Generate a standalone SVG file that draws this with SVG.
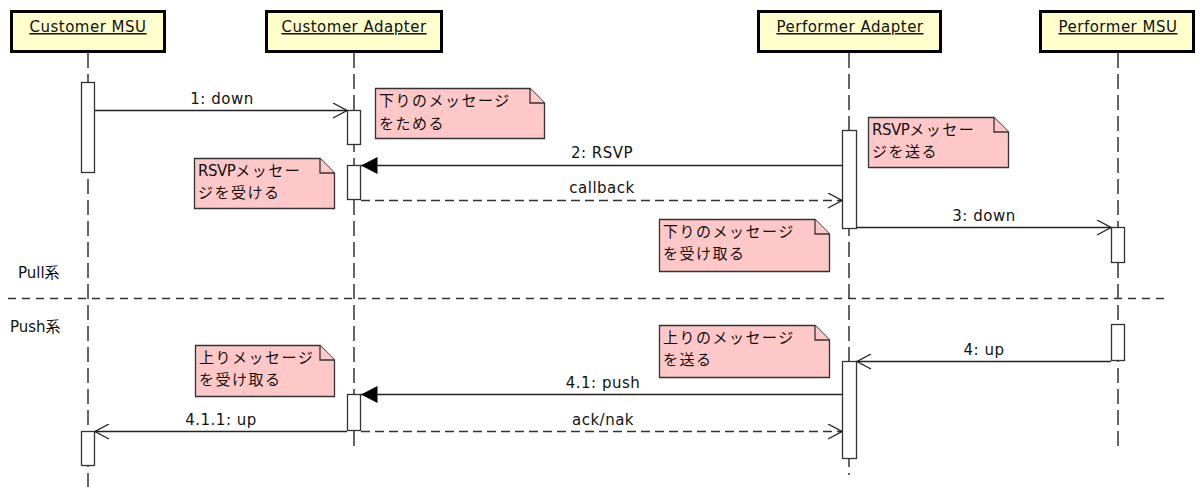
<svg xmlns="http://www.w3.org/2000/svg" width="1196" height="487" viewBox="0 0 1196 487">
  <style>
    .head rect { fill: #ffffcc; stroke: #000; stroke-width: 3; }
    .head text { font-family: "DejaVu Sans", sans-serif; font-size: 15px; letter-spacing: 0.5px; fill: #111; text-anchor: middle; text-decoration: underline; }
    .life { stroke: #333; stroke-width: 1.5; stroke-dasharray: 15 6; fill: none; }
    .act { fill: #fff; stroke: #333; stroke-width: 1.3; }
    .msg { stroke: #222; stroke-width: 1.3; fill: none; }
    .ret { stroke: #333; stroke-width: 1.3; fill: none; stroke-dasharray: 9 5; }
    .lbl { font-family: "DejaVu Sans", sans-serif; font-size: 15px; letter-spacing: 0.5px; fill: #111; text-anchor: middle; }
    .note path { fill: #ffc8c8; stroke: #333; stroke-width: 1.3; stroke-linejoin: miter; }
    .note text { font-family: "DejaVu Sans", "Noto Sans CJK JP", sans-serif; font-size: 15px; letter-spacing: 1.5px; fill: #111; }
    .note tspan.lat { font-size: 15px; letter-spacing: -0.5px; }
    .sec { font-family: "DejaVu Sans", "Noto Sans CJK JP", sans-serif; font-size: 15px; fill: #111; }
  </style>
  <defs>
    <marker id="open" viewBox="0 0 16 16" refX="15" refY="8" markerWidth="16" markerHeight="16" markerUnits="userSpaceOnUse" orient="auto">
      <path d="M1,0.5 L15,8 L1,15.5" fill="none" stroke="#222" stroke-width="1.3"/>
    </marker>
    <marker id="solid" viewBox="0 0 17 18" refX="16.5" refY="9" markerWidth="17" markerHeight="18" markerUnits="userSpaceOnUse" orient="auto">
      <path d="M0,0.5 L16.5,9 L0,17.5 Z" fill="#000"/>
    </marker>
  </defs>

  <!-- lifelines -->
  <g id="lifelines">
    <line class="life" x1="88" y1="53" x2="88" y2="487"/>
    <line class="life" x1="354" y1="53" x2="354" y2="448"/>
    <line class="life" x1="849" y1="53" x2="849" y2="475"/>
    <line class="life" x1="1118" y1="53" x2="1118" y2="450"/>
  </g>

  <!-- participants -->
  <g id="customer-msu" class="head">
    <rect x="11.5" y="11.5" width="153" height="40"/>
    <text x="88" y="32">Customer MSU</text>
  </g>
  <g id="customer-adapter" class="head">
    <rect x="266.5" y="11.5" width="175" height="40"/>
    <text x="354" y="32">Customer Adapter</text>
  </g>
  <g id="performer-adapter" class="head">
    <rect x="758.5" y="11.5" width="182" height="40"/>
    <text x="850" y="32">Performer Adapter</text>
  </g>
  <g id="performer-msu" class="head">
    <rect x="1040.5" y="11.5" width="153" height="40"/>
    <text x="1118" y="32">Performer MSU</text>
  </g>

  <!-- section divider -->
  <g id="sections">
    <line x1="8" y1="298.5" x2="1168" y2="298.5" stroke="#333" stroke-width="1.3" stroke-dasharray="8 6"/>
    <text class="sec" x="18" y="278">Pull系</text>
    <text class="sec" x="10" y="332">Push系</text>
  </g>

  <!-- activation bars -->
  <g id="activations">
    <rect class="act" x="81.5" y="82.5" width="13" height="90"/>
    <rect class="act" x="81.5" y="431.5" width="13" height="34"/>
    <rect class="act" x="347.5" y="110.5" width="13" height="34"/>
    <rect class="act" x="347.5" y="165.5" width="13" height="34"/>
    <rect class="act" x="347.5" y="394.5" width="13" height="36"/>
    <rect class="act" x="842.5" y="130.5" width="14" height="98"/>
    <rect class="act" x="842.5" y="361.5" width="14" height="97"/>
    <rect class="act" x="1111.5" y="227.5" width="13" height="35"/>
    <rect class="act" x="1111.5" y="324.5" width="13" height="36"/>
  </g>

  <!-- messages -->
  <g id="connectors">
    <line class="msg" x1="95" y1="110.5" x2="347" y2="110.5" marker-end="url(#open)"/>
    <text class="lbl" x="222" y="104">1: down</text>

    <line class="msg" x1="842" y1="165.5" x2="361" y2="165.5" marker-end="url(#solid)"/>
    <text class="lbl" x="602" y="158">2: RSVP</text>

    <line class="ret" x1="361" y1="200.5" x2="842" y2="200.5" marker-end="url(#open)"/>
    <text class="lbl" x="602" y="193">callback</text>

    <line class="msg" x1="857" y1="227.5" x2="1111" y2="227.5" marker-end="url(#open)"/>
    <text class="lbl" x="984" y="221">3: down</text>

    <line class="msg" x1="1111" y1="361.5" x2="857" y2="361.5" marker-end="url(#open)"/>
    <text class="lbl" x="984" y="355">4: up</text>

    <line class="msg" x1="842" y1="394.5" x2="361" y2="394.5" marker-end="url(#solid)"/>
    <text class="lbl" x="603" y="388">4.1: push</text>

    <line class="ret" x1="361" y1="431.5" x2="842" y2="431.5" marker-end="url(#open)"/>
    <text class="lbl" x="603" y="425">ack/nak</text>

    <line class="msg" x1="347" y1="431.5" x2="95" y2="431.5" marker-end="url(#open)"/>
    <text class="lbl" x="221" y="425">4.1.1: up</text>
  </g>

  <!-- notes -->
  <g id="note-store" class="note">
    <path d="M375.5,88.5 H530 L544.5,103 V138.5 H375.5 Z"/>
    <path d="M530,88.5 V103 H544.5" fill="none"/>
    <text x="379" y="106">下りのメッセージ</text>
    <text x="379" y="129">をためる</text>
  </g>
  <g id="note-rsvp-receive" class="note">
    <path d="M194.5,158.5 H320 L334.5,173 V208.5 H194.5 Z"/>
    <path d="M320,158.5 V173 H334.5" fill="none"/>
    <text x="198" y="176"><tspan class="lat">RSVP</tspan>メッセー</text>
    <text x="198" y="198">ジを受ける</text>
  </g>
  <g id="note-rsvp-send" class="note">
    <path d="M868.5,117.5 H994 L1008.5,132 V167.5 H868.5 Z"/>
    <path d="M994,117.5 V132 H1008.5" fill="none"/>
    <text x="872" y="135"><tspan class="lat">RSVP</tspan>メッセー</text>
    <text x="872" y="157">ジを送る</text>
  </g>
  <g id="note-down-receive" class="note">
    <path d="M659.5,219.5 H815 L829.5,234 V271.5 H659.5 Z"/>
    <path d="M815,219.5 V234 H829.5" fill="none"/>
    <text x="663" y="237">下りのメッセージ</text>
    <text x="663" y="259">を受け取る</text>
  </g>
  <g id="note-up-receive" class="note">
    <path d="M195.5,345.5 H320 L334.5,360 V396.5 H195.5 Z"/>
    <path d="M320,345.5 V360 H334.5" fill="none"/>
    <text x="199" y="363">上りメッセージ</text>
    <text x="199" y="385">を受け取る</text>
  </g>
  <g id="note-up-send" class="note">
    <path d="M659.5,325.5 H815 L829.5,340 V377.5 H659.5 Z"/>
    <path d="M815,325.5 V340 H829.5" fill="none"/>
    <text x="663" y="343">上りのメッセージ</text>
    <text x="663" y="365">を送る</text>
  </g>
</svg>
